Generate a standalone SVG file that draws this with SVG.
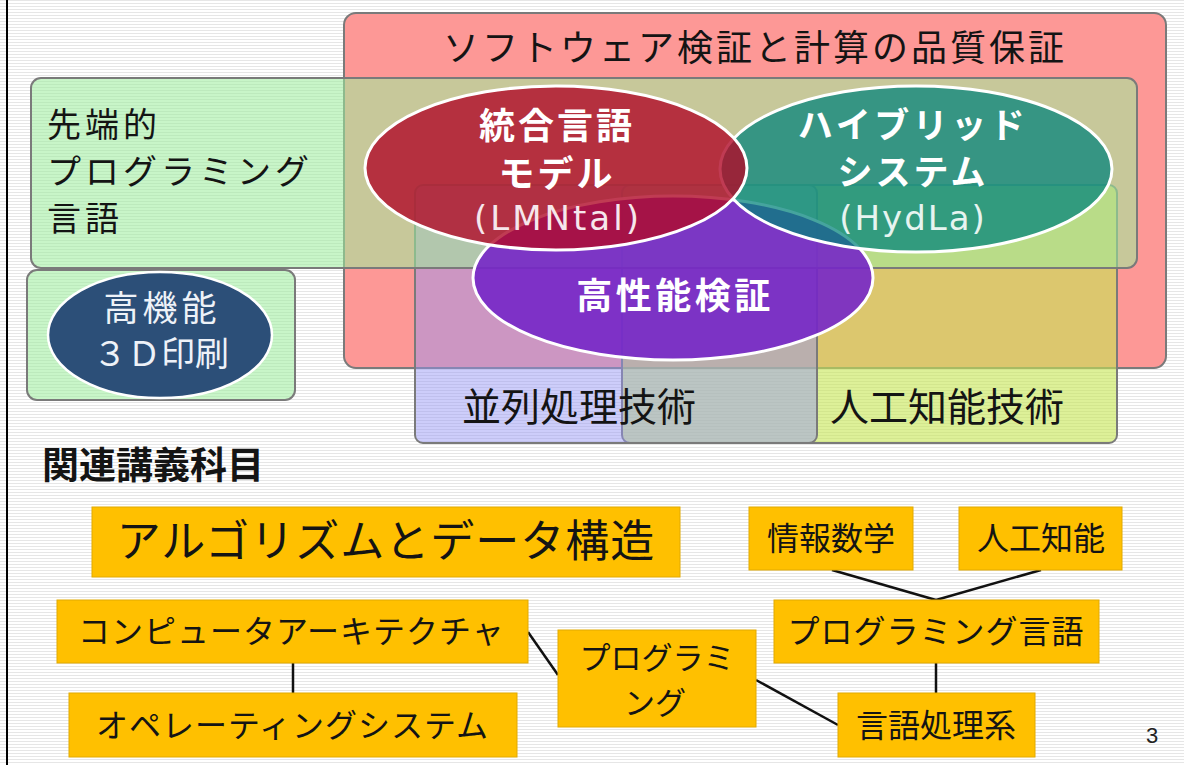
<svg xmlns="http://www.w3.org/2000/svg" width="1184" height="765" viewBox="0 0 1184 765">
<defs>
<pattern id="stripes" width="8" height="3" patternUnits="userSpaceOnUse">
<rect width="8" height="3" fill="#ffffff"/>
<rect y="0" width="8" height="1" fill="#e6e6e6"/>
</pattern>
</defs>
<style>
.jp{font-family:"Noto Sans CJK JP","Noto Sans",sans-serif;}
.lat{font-family:"DejaVu Sans",sans-serif;}
.dark{fill:#141414;}
.wt{fill:#ffffff;}
.box{stroke:#7a7a7a;stroke-width:2;}
.ell{stroke:#ffffff;stroke-width:3;}
.ob{fill:#ffc000;stroke:#e2aa00;stroke-width:1;}
.conn{stroke:#111111;stroke-width:2.5;fill:none;}
</style>
<rect width="1184" height="765" fill="url(#stripes)"/>
<line x1="7" y1="0" x2="7" y2="765" stroke="#000" stroke-width="2"/>

<g id="verification">
<rect class="box" x="344" y="13" width="822" height="355" rx="12" fill="#fd9896"/>
<text class="jp dark" x="755" y="61" font-size="36" letter-spacing="3" text-anchor="middle">ソフトウェア検証と計算の品質保証</text>
</g>

<g id="ai">
<rect class="box" x="622" y="185" width="495" height="258" rx="8" fill="rgb(198,230,83)" fill-opacity="0.6"/>
<text class="jp dark" x="830" y="421" font-size="39">人工知能技術</text>
</g>

<g id="parallel">
<rect class="box" x="415" y="185" width="402" height="258" rx="8" fill="rgb(148,148,245)" fill-opacity="0.47"/>
<text class="jp dark" x="462" y="421" font-size="39">並列処理技術</text>
</g>

<g id="advanced-lang">
<rect class="box" x="31" y="78" width="1106" height="190" rx="10" fill="rgb(157,237,157)" fill-opacity="0.56"/>
<text class="jp dark" font-size="34" letter-spacing="4"><tspan x="47" y="137">先端的</tspan><tspan x="47" y="184">プログラミング</tspan><tspan x="47" y="231">言語</tspan></text>
</g>

<g id="print3d">
<rect class="box" x="27" y="270" width="268" height="130" rx="10" fill="rgb(157,237,157)" fill-opacity="0.56"/>
<ellipse cx="160" cy="335" rx="112" ry="63" fill="#2c4f78" stroke="#ffffff" stroke-width="2.5"/>
<text class="jp" fill="#eef2f8" x="162" y="321" font-size="35" letter-spacing="4" text-anchor="middle">高機能</text>
<text class="jp" fill="#eef2f8" x="161" y="366" font-size="34" text-anchor="middle">３Ｄ印刷</text>
</g>

<g id="high-perf">
<ellipse class="ell" cx="673" cy="278" rx="200" ry="82" fill="rgb(118,38,200)" fill-opacity="0.9"/>
</g>

<g id="hybrid">
<ellipse class="ell" cx="916" cy="169" rx="196" ry="83" fill="rgb(0,130,122)" fill-opacity="0.73"/>
</g>

<g id="lmntal">
<ellipse class="ell" cx="556" cy="168" rx="191" ry="82" fill="rgb(176,10,40)" fill-opacity="0.8"/>
</g>

<g id="labels-ellipses">
<text class="jp wt" x="557" y="139" font-size="36" font-weight="bold" letter-spacing="3" text-anchor="middle">統合言語</text>
<text class="jp wt" x="557" y="187" font-size="36" font-weight="bold" letter-spacing="3" text-anchor="middle">モデル</text>
<text class="lat" fill="#f6e6ec" x="558" y="230" font-size="34" letter-spacing="3" text-anchor="middle">(LMNtal)</text>
<text class="jp wt" x="913" y="138" font-size="35" font-weight="bold" letter-spacing="3.5" text-anchor="middle">ハイブリッド</text>
<text class="jp wt" x="913" y="185" font-size="35" font-weight="bold" letter-spacing="3" text-anchor="middle">システム</text>
<text class="lat" fill="#e6f4f0" x="913" y="230" font-size="34" letter-spacing="2" text-anchor="middle">(HydLa)</text>
<text class="jp wt" x="675" y="309" font-size="36" font-weight="bold" letter-spacing="3.5" text-anchor="middle">高性能検証</text>
</g>

<g id="related-title">
<text class="jp dark" x="42" y="479" font-size="37" font-weight="bold">関連講義科目</text>
</g>

<g id="connectors">
<line class="conn" x1="293" y1="663" x2="293" y2="693"/>
<line class="conn" x1="528" y1="632" x2="558" y2="675"/>
<line class="conn" x1="756" y1="680" x2="838" y2="725"/>
<line class="conn" x1="936" y1="663" x2="936" y2="693"/>
<line class="conn" x1="832" y1="570" x2="936" y2="600"/>
<line class="conn" x1="1041" y1="570" x2="936" y2="600"/>
</g>

<g id="algo">
<rect class="ob" x="92" y="507" width="588" height="70"/>
<text class="jp dark" x="386" y="557" font-size="44" letter-spacing="1" text-anchor="middle">アルゴリズムとデータ構造</text>
</g>
<g id="arch">
<rect class="ob" x="57" y="600" width="471" height="63"/>
<text class="jp dark" x="78" y="643" font-size="32" letter-spacing="1">コンピュータアーキテクチャ</text>
</g>
<g id="os">
<rect class="ob" x="69" y="693" width="448" height="64"/>
<text class="jp dark" x="96" y="737" font-size="32" letter-spacing="1">オペレーティングシステム</text>
</g>
<g id="programming">
<rect class="ob" x="558" y="630" width="198" height="97"/>
<text class="jp dark" font-size="31" text-anchor="middle"><tspan x="657" y="669">プログラミ</tspan><tspan x="655" y="714">ング</tspan></text>
</g>
<g id="lang-proc">
<rect class="ob" x="838" y="693" width="197" height="64"/>
<text class="jp dark" x="936" y="737" font-size="32" text-anchor="middle">言語処理系</text>
</g>
<g id="prog-lang">
<rect class="ob" x="774" y="600" width="325" height="63"/>
<text class="jp dark" x="936" y="643" font-size="32" letter-spacing="1" text-anchor="middle">プログラミング言語</text>
</g>
<g id="info-math">
<rect class="ob" x="749" y="507" width="164" height="63"/>
<text class="jp dark" x="831" y="550" font-size="32" text-anchor="middle">情報数学</text>
</g>
<g id="ai-course">
<rect class="ob" x="959" y="507" width="163" height="63"/>
<text class="jp dark" x="1041" y="550" font-size="32" text-anchor="middle">人工知能</text>
</g>

<g id="page-number">
<text x="1152" y="743" font-family="Liberation Sans, Arial, sans-serif" font-size="22" fill="#222" text-anchor="middle">3</text>
</g>
</svg>
